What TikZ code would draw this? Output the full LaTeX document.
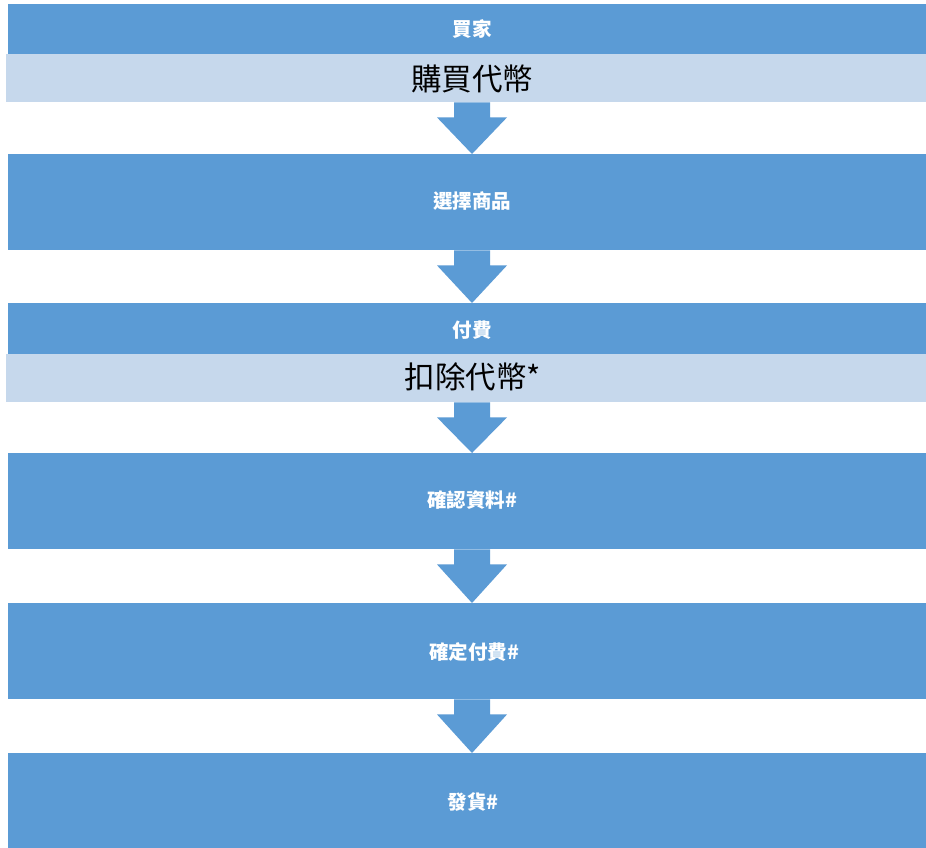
\documentclass[tikz,border=0pt]{standalone}
\usepackage{fontspec}
\newfontfamily\cjk{Noto Sans CJK TC}
\usetikzlibrary{calc}
\definecolor{flowblue}{RGB}{91,155,213}
\definecolor{flowlight}{RGB}{198,216,236}
\tikzset{
  bar/.style={fill=flowblue, draw=none, anchor=north west, minimum width=922pt, inner sep=0pt},
  band/.style={fill=flowlight, draw=none, anchor=north west, minimum width=924pt, inner sep=0pt},
  wtext/.style={text=white, font=\cjk\fontsize{19.5}{22}\selectfont\bfseries, inner sep=0pt},
  btext/.style={text=black, font=\cjk\fontsize{30.5}{33}\selectfont, inner sep=0pt},
  arr/.style={fill=flowblue, draw=none}
}
\newcommand{\flowarr}[2]{%
  \fill[arr] let \p1=(#1.south), \p2=(#2.north) in
    (454,\y1) -- (490,\y1) -- (490,\y1-15) -- (507,\y1-15) -- (472,\y2)
    -- (437,\y1-15) -- (454,\y1-15) -- cycle;}
\begin{document}
\begin{tikzpicture}[x=1pt,y=-1pt]
\useasboundingbox (0,0) rectangle (926,847);
\fill[white] (0,0) rectangle (926,847);
% boxes
\node[bar, minimum height=50pt] (b1) at (8,4) {};
\node[band, minimum height=48pt] (l1) at (6,54) {};
\node[bar, minimum height=96pt] (b2) at (8,154) {};
\node[bar, minimum height=51pt] (b3) at (8,303) {};
\node[band, minimum height=48pt] (l3) at (6,354) {};
\node[bar, minimum height=96pt] (b4) at (8,453) {};
\node[bar, minimum height=96pt] (b5) at (8,603) {};
\node[bar, minimum height=100pt] (b6) at (8,753) {};
% texts
\node[wtext] (t1) at (472,29) {買家};
\node[btext] (t1b) at (472,79) {購買代幣};
\node[wtext] (t2) at (472,201) {選擇商品};
\node[wtext] (t3) at (472,330) {付費};
\node[btext] (t3b) at (473,377) {扣除代幣*};
\node[wtext] (t4) at (472,500) {確認資料\#};
\node[wtext] (t5) at (474,652) {確定付費\#};
\node[wtext] (t6) at (473,802) {發貨\#};
% arrows
\flowarr{l1}{b2}
\flowarr{b2}{b3}
\flowarr{l3}{b4}
\flowarr{b4}{b5}
\flowarr{b5}{b6}
\end{tikzpicture}
\end{document}
